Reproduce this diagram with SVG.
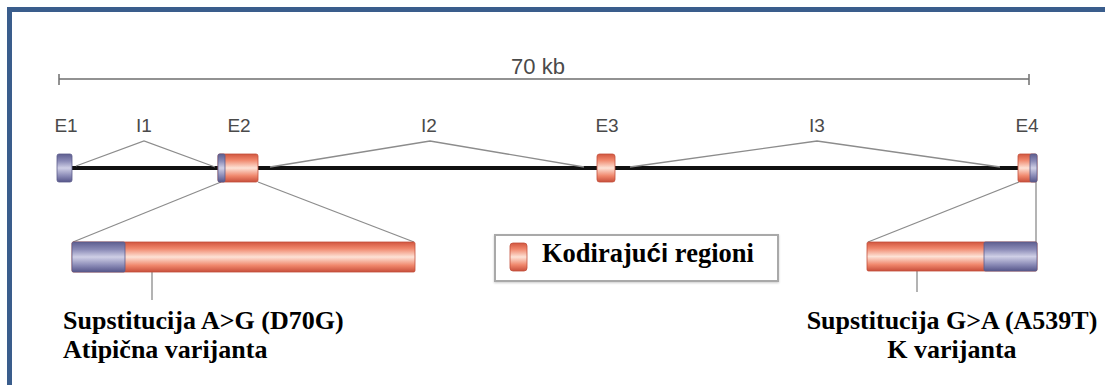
<svg xmlns="http://www.w3.org/2000/svg" width="1105" height="385" viewBox="0 0 1105 385">
  <style>
    .frame { fill: none; stroke: #3a5d8c; stroke-width: 5; }
    .scale { stroke: #6e6e6e; stroke-width: 1.5; fill: none; }
    .lbl { font-family: "Liberation Sans", Arial, sans-serif; font-size: 19px; fill: #4a4a4a; text-anchor: middle; }
    .intron { stroke: #8c8c8c; stroke-width: 1.3; fill: none; }
    .gene { stroke: #111; stroke-width: 4; }
    .zoom { stroke: #8c8c8c; stroke-width: 1.3; fill: none; }
    .pointer { stroke: #9a9a9a; stroke-width: 1.5; }
    .cds { fill: url(#salmon); stroke: #c24e3a; stroke-width: 0.8; }
    .utr { fill: url(#violet); stroke: #5c5c8a; stroke-width: 0.8; }
    .note { font-family: "Liberation Serif", "Times New Roman", serif; font-weight: bold; font-size: 26px; fill: #000; }
    .legend-box { fill: #fff; stroke: #a9a9a9; stroke-width: 2; }
  </style>
  <defs>
    <linearGradient id="salmon" x1="0" y1="0" x2="0" y2="1">
      <stop offset="0" stop-color="#d2563f"/>
      <stop offset="0.22" stop-color="#f0876c"/>
      <stop offset="0.5" stop-color="#fde2d6"/>
      <stop offset="0.78" stop-color="#f0876c"/>
      <stop offset="1" stop-color="#c84f3b"/>
    </linearGradient>
    <linearGradient id="violet" x1="0" y1="0" x2="0" y2="1">
      <stop offset="0" stop-color="#5e5e90"/>
      <stop offset="0.25" stop-color="#8a8ab6"/>
      <stop offset="0.5" stop-color="#cfcfe6"/>
      <stop offset="0.78" stop-color="#8a8ab6"/>
      <stop offset="1" stop-color="#56568a"/>
    </linearGradient>
    <filter id="soft" x="-5%" y="-20%" width="110%" height="140%">
      <feDropShadow dx="0" dy="1" stdDeviation="1.2" flood-color="#000" flood-opacity="0.2"/>
    </filter>
  </defs>

  <rect width="1105" height="385" fill="#fff"/>

  <!-- page border (top and left edges) -->
  <path class="frame" d="M9.5,385 V9.5 H1105"/>

  <!-- 70 kb scale bar -->
  <g id="scale">
    <line class="scale" x1="59" y1="79" x2="1029" y2="79"/>
    <line class="scale" x1="59" y1="74" x2="59" y2="85"/>
    <line class="scale" x1="1029" y1="74" x2="1029" y2="85"/>
    <text class="lbl" x="538" y="74" style="font-size:22px">70 kb</text>
  </g>

  <!-- exon / intron labels -->
  <g id="labels">
    <text class="lbl" x="66" y="132">E1</text>
    <text class="lbl" x="144" y="132">I1</text>
    <text class="lbl" x="239" y="132">E2</text>
    <text class="lbl" x="429" y="132">I2</text>
    <text class="lbl" x="607" y="132">E3</text>
    <text class="lbl" x="817" y="132">I3</text>
    <text class="lbl" x="1027" y="132">E4</text>
  </g>

  <g id="connectors">
    <!-- gene backbone -->
    <line class="gene" x1="72" y1="168" x2="1018" y2="168"/>
    <!-- intron spans -->
    <polyline class="intron" points="76,166 144,141 215,167"/>
    <polyline class="intron" points="270,167 430,141 584,167"/>
    <polyline class="intron" points="630,167 817,141 1000,167"/>
    <!-- expansion of exon 2 -->
    <line class="zoom" x1="221" y1="182" x2="73" y2="242"/>
    <line class="zoom" x1="258" y1="182" x2="414" y2="242"/>
    <!-- expansion of exon 4 -->
    <line class="zoom" x1="1019" y1="182" x2="868" y2="242"/>
    <line class="zoom" x1="1036" y1="182" x2="1036" y2="242"/>
    <!-- variant pointers -->
    <line class="pointer" x1="152" y1="272" x2="152" y2="300"/>
    <line class="pointer" x1="917" y1="271" x2="917" y2="292"/>
  </g>

  <!-- exons on the gene -->
  <g id="E1">
    <rect class="utr" x="57" y="154" width="15" height="28" rx="2"/>
  </g>
  <g id="E2">
    <rect class="cds" x="218" y="154" width="40" height="28" rx="2"/>
    <rect class="utr" x="218" y="154" width="7" height="28" rx="1.5"/>
  </g>
  <g id="E3">
    <rect class="cds" x="597" y="154" width="18" height="28" rx="2.5"/>
  </g>
  <g id="E4">
    <rect class="cds" x="1018" y="154" width="19" height="28" rx="2"/>
    <rect class="utr" x="1030" y="154" width="7" height="28" rx="1.5"/>
  </g>

  <!-- expanded exon 2 -->
  <g id="exon2-detail">
    <rect class="cds" x="72" y="242" width="343" height="30" rx="1.5"/>
    <rect class="utr" x="72" y="242" width="53" height="30" rx="1.5"/>
  </g>

  <!-- expanded exon 4 -->
  <g id="exon4-detail">
    <rect class="cds" x="867" y="242" width="170" height="29" rx="1.5"/>
    <rect class="utr" x="984" y="242" width="53" height="29" rx="1.5"/>
  </g>

  <!-- legend -->
  <g id="legend">
    <rect class="legend-box" x="495" y="235" width="283" height="46" filter="url(#soft)"/>
    <rect class="cds" x="510" y="243" width="17" height="28" rx="3"/>
    <text class="note" x="542" y="262" style="font-size:26.5px">Kodiraju<tspan style="font-family:'Liberation Sans', Arial, sans-serif; font-size:26px">ći</tspan> regioni</text>
  </g>

  <!-- variant notes -->
  <g id="variant-D70G">
    <text class="note" x="63" y="329">Supstitucija A&gt;G (D70G)</text>
    <text class="note" x="63" y="358">Atipična varijanta</text>
  </g>
  <g id="variant-A539T">
    <text class="note" x="952" y="329" text-anchor="middle">Supstitucija G&gt;A (A539T)</text>
    <text class="note" x="952" y="358" text-anchor="middle">K varijanta</text>
  </g>
</svg>
